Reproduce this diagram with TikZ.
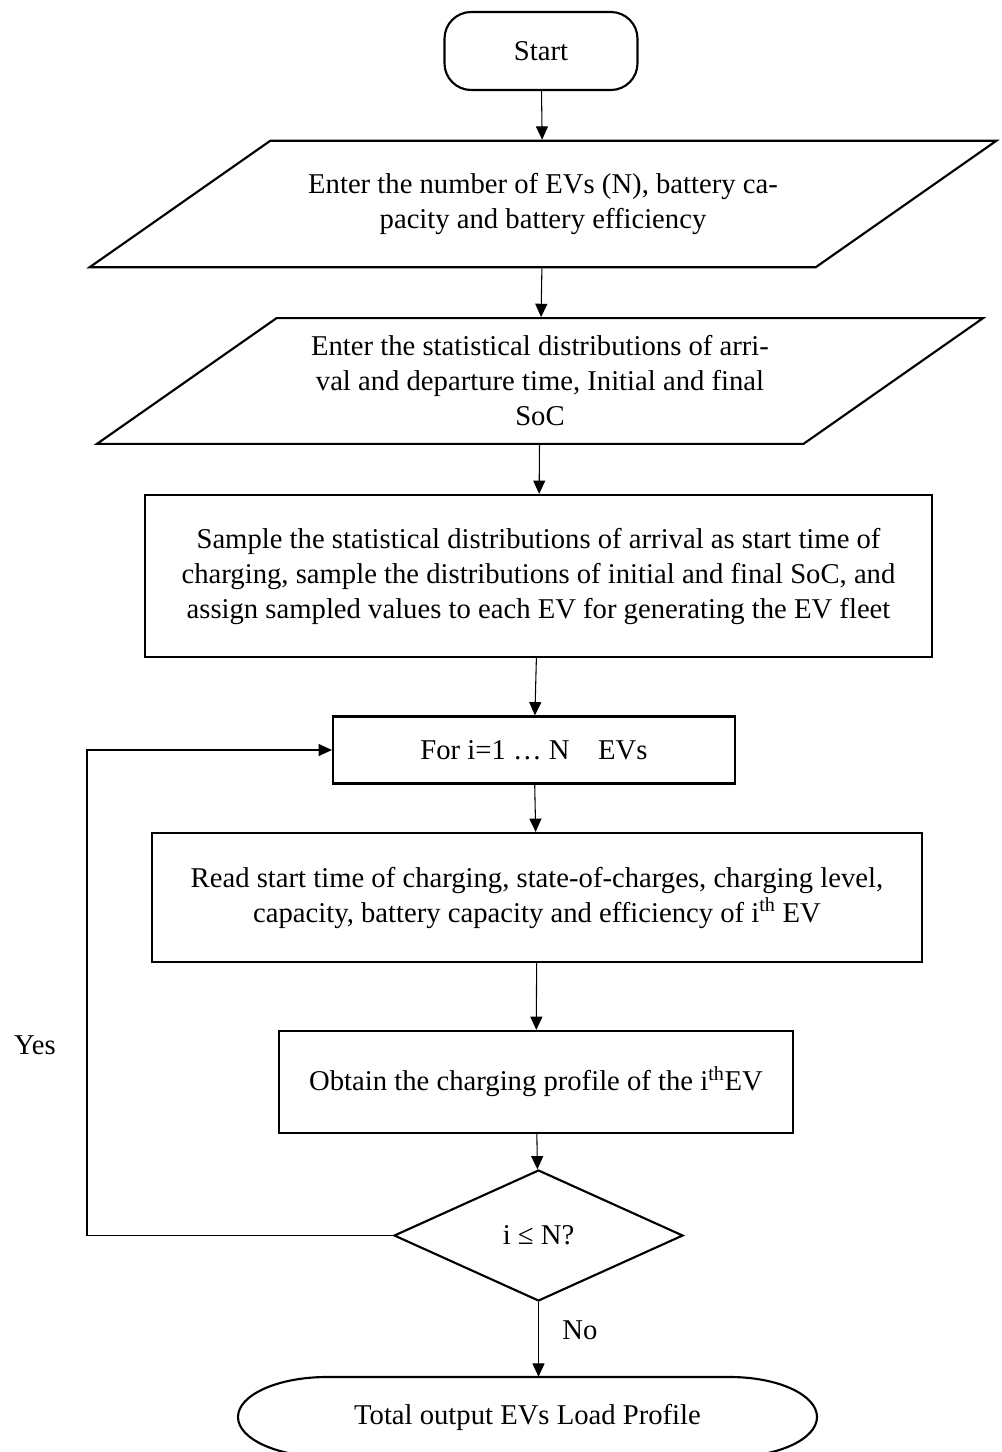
\documentclass[tikz,border=0pt]{standalone}
\usepackage{fontspec}
\setmainfont{Liberation Serif}
\usetikzlibrary{shapes.geometric, arrows.meta}

\begin{document}
\begin{tikzpicture}[
    x=0.75pt, y=-0.75pt,
    every node/.style={font=\fontsize{21.5}{26.25}\selectfont},
    terminal/.style={rectangle, rounded corners=20pt, draw=black, line width=1.6pt,
        minimum width=144.75pt, minimum height=58.5pt},
    io/.style={trapezium, trapezium left angle=35, trapezium right angle=145,
        trapezium stretches body, draw=black, line width=1.6pt,
        align=center, inner xsep=0pt},
    process/.style={rectangle, draw=black, line width=1.6pt, align=center, inner sep=0pt},
    decision/.style={diamond, draw=black, line width=1.6pt, inner sep=0pt,
        minimum width=216.75pt, minimum height=98.25pt},
    tag/.style={inner sep=0pt},
    edge/.style={line width=0.8pt, -{Triangle[length=10pt, width=9pt]}}
]
    \useasboundingbox (0,0) rectangle (1001,1452);
    \node[terminal] (start) at (541,51) {Start};
    \node[io, minimum width=680pt, inner ysep=24.4pt] (input1) at (543,204)
        {Enter the number of EVs (N), battery ca-\\pacity and battery efficiency};
    \node[io, minimum width=664.5pt, inner ysep=13.2pt] (input2) at (540,381)
        {Enter the statistical distributions of arri-\\val and departure time, Initial and final\\SoC};
    \node[process, minimum width=590pt, minimum height=121.5pt] (sample) at (538.5,576)
        {Sample the statistical distributions of arrival as start time of\\charging, sample the distributions of initial and final SoC, and\\assign sampled values to each EV for generating the EV fleet};
    \node[process, minimum width=301.5pt, minimum height=50.25pt] (loop) at (534,750)
        {For i=1 \dots\ N\hspace{1em}EVs};
    \node[process, minimum width=577.5pt, minimum height=96.75pt] (read) at (537,897.5)
        {Read start time of charging, state-of-charges, charging level,\\capacity, battery capacity and efficiency of i\textsuperscript{th} EV};
    \node[process, minimum width=385.5pt, minimum height=76.5pt] (obtain) at (536,1082)
        {Obtain the charging profile of the i\textsuperscript{th}EV};
    \node[decision] (check) at (538.5,1235.5) {i ≤ N?};
    \node[minimum width=434pt, minimum height=60pt] (stop) at (527.5,1417)
        {Total output EVs Load Profile};
    \draw[line width=1.6pt] (327,1377) -- (730,1377)
        arc[start angle=90, end angle=-90, x radius=65.25pt, y radius=30pt]
        -- (327,1457)
        arc[start angle=270, end angle=90, x radius=66.75pt, y radius=30pt];
    \node[tag] (yes) at (35,1045) {Yes};
    \node[tag] (no) at (580,1330) {No};
    \coordinate (corner) at (87,1235.5);
    \draw[edge] (start) -- (input1);
    \draw[edge] (input1) -- (input2);
    \draw[edge] (input2) -- (sample);
    \draw[edge] (sample) -- (loop);
    \draw[edge] (loop) -- (read);
    \draw[edge] (read) -- (obtain);
    \draw[edge] (obtain) -- (check);
    \draw[edge] (check.south) -- (stop.north -| check.south);
    \draw[edge] (check.west) -- (corner) |- (loop.west);
\end{tikzpicture}
\end{document}
